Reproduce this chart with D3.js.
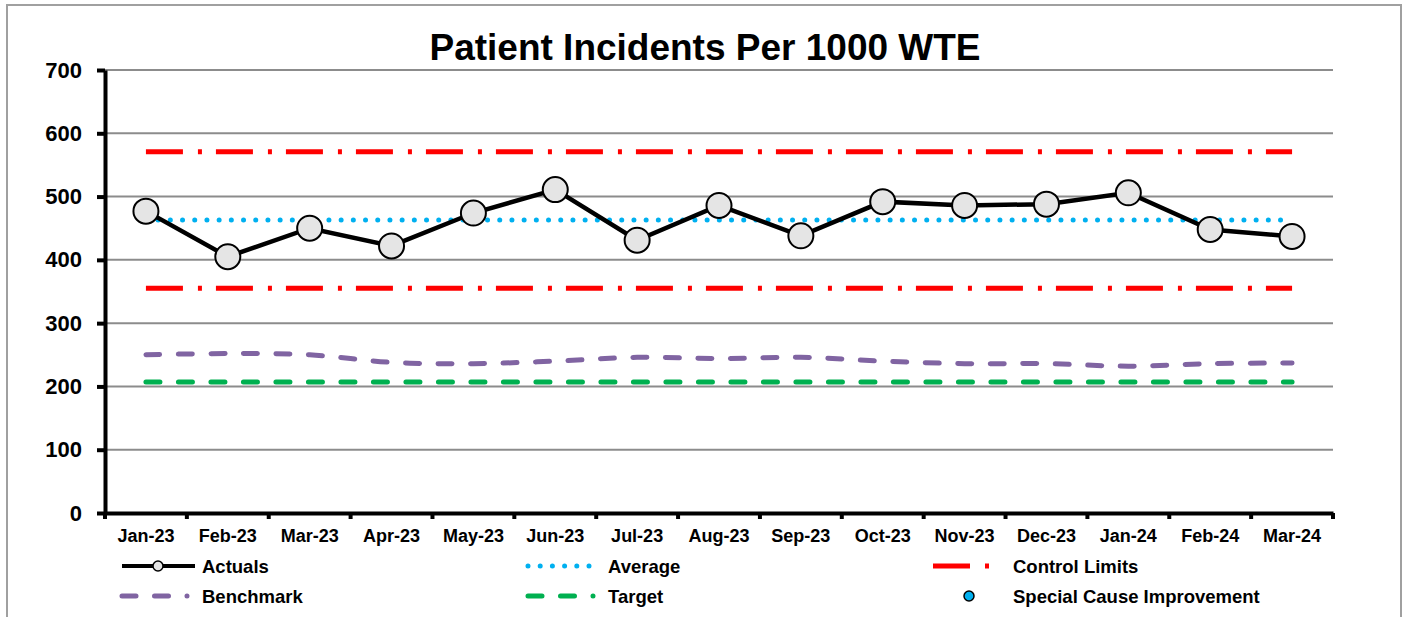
<!DOCTYPE html>
<html>
<head>
<meta charset="utf-8">
<script src="https://cdn.jsdelivr.net/npm/d3@7"></script>
<style>
  body { margin: 0; background: #fff; }
  svg text { font-family: "Liberation Sans", Arial, sans-serif; font-weight: bold; fill: #000; }
</style>
</head>
<body>
<svg id="chart" width="1407" height="617"></svg>
<script>
// data
var months = ["Jan-23","Feb-23","Mar-23","Apr-23","May-23","Jun-23","Jul-23","Aug-23","Sep-23","Oct-23","Nov-23","Dec-23","Jan-24","Feb-24","Mar-24"];
var actuals = [477, 405, 450, 422, 474, 511, 431, 486, 438, 492, 486, 488, 506, 448, 437];
var benchmark = [250, 252, 250, 238, 236, 240, 246, 244, 246, 240, 236, 236, 232, 236, 237];
var average = 463;
var upperLimit = 571;
var lowerLimit = 355;
var target = 207;
var yTicks = [0, 100, 200, 300, 400, 500, 600, 700];

var svg = d3.select("#chart");

// outer frame
svg.append("rect")
  .attr("x", 7).attr("y", 5).attr("width", 1394).attr("height", 650)
  .attr("fill", "none").attr("stroke", "#a0a0a0").attr("stroke-width", 2);

var x = d3.scaleBand().domain(months).range([105, 1333]).padding(0);
var y = d3.scaleLinear().domain([0, 700]).range([513, 70]);
var cx = function(d, i){ return x(months[i]) + x.bandwidth() / 2; };

// title
svg.append("text")
  .attr("x", 705).attr("y", 60)
  .attr("text-anchor", "middle")
  .style("font-size", "37px")
  .text("Patient Incidents Per 1000 WTE");

// gridlines
svg.append("g").selectAll("line").data(yTicks.slice(1)).enter().append("line")
  .attr("x1", 105).attr("x2", 1333)
  .attr("y1", function(d){ return y(d); }).attr("y2", function(d){ return y(d); })
  .attr("stroke", "#8c8c8c").attr("stroke-width", 2);

// y axis
var yAxis = d3.axisLeft(y).tickValues(yTicks).tickSize(8).tickSizeOuter(0).tickPadding(15);
var gy = svg.append("g").attr("transform", "translate(105,0)").call(yAxis);
gy.select(".domain").attr("stroke", "#000").attr("stroke-width", 4);
gy.selectAll(".tick line").attr("stroke", "#000").attr("stroke-width", 4);
gy.selectAll(".tick text").style("font-size", "22px").style("font-family", "Liberation Sans, Arial, sans-serif").style("font-weight", "bold");

// x axis
var xAxis = d3.axisBottom(x).tickSize(0).tickSizeOuter(0).tickPadding(16);
var gx = svg.append("g").attr("transform", "translate(0,513)").call(xAxis);
gx.select(".domain").attr("stroke", "#000").attr("stroke-width", 4);
gx.selectAll(".tick text").style("font-size", "18px").style("font-family", "Liberation Sans, Arial, sans-serif").style("font-weight", "bold");
// tick marks between categories
var bounds = months.map(function(m){ return x(m); }).concat([x.range()[1]]);
gx.selectAll(".bound").data(bounds).enter().append("line")
  .attr("x1", function(d){ return d; }).attr("x2", function(d){ return d; })
  .attr("y1", 0).attr("y2", 6)
  .attr("stroke", "#000").attr("stroke-width", 4);

var flat = function(v){ return months.map(function(){ return v; }); };
var straight = d3.line().x(cx).y(function(d){ return y(d); });
var smooth = d3.line().x(cx).y(function(d){ return y(d); }).curve(d3.curveCatmullRom.alpha(0.5));

// target + benchmark
svg.append("path").datum(flat(target)).attr("d", straight)
  .attr("fill", "none").attr("stroke", "#00b050").attr("stroke-width", 5)
  .attr("stroke-linecap", "round").attr("stroke-dasharray", "14 18.5");
svg.append("path").datum(benchmark).attr("d", smooth)
  .attr("fill", "none").attr("stroke", "#8064a2").attr("stroke-width", 5)
  .attr("stroke-linecap", "round").attr("stroke-dasharray", "14 18.5");

// control limits
[upperLimit, lowerLimit].forEach(function(v){
  svg.append("path").datum(flat(v)).attr("d", straight)
    .attr("fill", "none").attr("stroke", "#ff0000").attr("stroke-width", 5)
    .attr("stroke-dasharray", "37 15 4 14");
});

// average
svg.append("path").datum(flat(average)).attr("d", straight)
  .attr("fill", "none").attr("stroke", "#00b0f0").attr("stroke-width", 5)
  .attr("stroke-linecap", "round").attr("stroke-dasharray", "0 12.2");

// actuals
svg.append("path").datum(actuals).attr("d", straight)
  .attr("fill", "none").attr("stroke", "#000").attr("stroke-width", 4.5);
svg.append("g").selectAll("circle").data(actuals).enter().append("circle")
  .attr("cx", cx).attr("cy", function(d){ return y(d); }).attr("r", 12.5)
  .attr("fill", "#e5e5e5").attr("stroke", "#000").attr("stroke-width", 2);

// legend
var legend = [
  {name: "Actuals", col: 122, row: 566, color: "#000", dash: null, marker: "#e5e5e5"},
  {name: "Average", col: 528, row: 566, color: "#00b0f0", dash: "0 12.2", cap: "round"},
  {name: "Control Limits", col: 933, row: 566, color: "#ff0000", dash: "37 15 4 30"},
  {name: "Benchmark", col: 122, row: 596, color: "#8064a2", dash: "14 18.5 14 18.5 0 30", cap: "round"},
  {name: "Target", col: 528, row: 596, color: "#00b050", dash: "14 18.5 14 18.5 0 30", cap: "round"},
  {name: "Special Cause Improvement", col: 933, row: 596, color: null, dot: "#00b0f0"}
];
var lg = svg.append("g").selectAll("g").data(legend).enter().append("g");
lg.filter(function(d){ return d.color; }).append("line")
  .attr("x1", function(d){ return d.col; }).attr("x2", function(d){ return d.col + 73; })
  .attr("y1", function(d){ return d.row; }).attr("y2", function(d){ return d.row; })
  .attr("stroke", function(d){ return d.color; })
  .attr("stroke-width", function(d){ return d.name == "Actuals" ? 4 : 5; })
  .attr("stroke-linecap", function(d){ return d.cap || "butt"; })
  .attr("stroke-dasharray", function(d){ return d.dash; });
lg.filter(function(d){ return d.marker; }).append("circle")
  .attr("cx", function(d){ return d.col + 36; }).attr("cy", function(d){ return d.row; }).attr("r", 5)
  .attr("fill", function(d){ return d.marker; }).attr("stroke", "#000").attr("stroke-width", 1.5);
lg.filter(function(d){ return d.dot; }).append("circle")
  .attr("cx", function(d){ return d.col + 36; }).attr("cy", function(d){ return d.row; }).attr("r", 5)
  .attr("fill", function(d){ return d.dot; }).attr("stroke", "#000").attr("stroke-width", 1.5);
lg.append("text")
  .attr("x", function(d){ return d.col + 80; }).attr("y", function(d){ return d.row + 7; })
  .style("font-size", "18.5px")
  .text(function(d){ return d.name; });
</script>
</body>
</html>
